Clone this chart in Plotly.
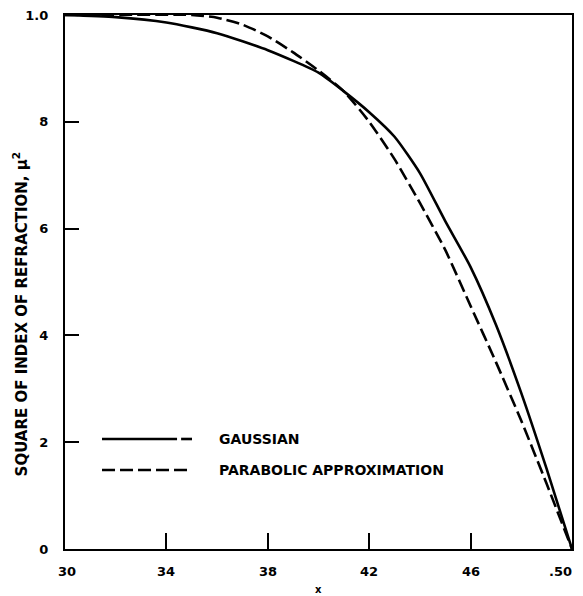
import plotly.graph_objects as go

# Values
gauss_x = [0.30, 0.32, 0.34, 0.36, 0.38, 0.40, 0.41, 0.42, 0.43, 0.44,
           0.45, 0.46, 0.47, 0.48, 0.49, 0.50]
gauss_y = [1.000, 0.996, 0.986, 0.966, 0.934, 0.892, 0.857, 0.818, 0.772, 0.704,
           0.614, 0.528, 0.420, 0.292, 0.150, 0.000]

parab_x = [0.30, 0.35, 0.36, 0.37, 0.38, 0.39, 0.40, 0.41, 0.42, 0.43,
           0.44, 0.45, 0.46, 0.47, 0.48, 0.49, 0.50]
parab_y = [1.000, 1.000, 0.995, 0.982, 0.960, 0.930, 0.896, 0.857, 0.800, 0.730,
           0.648, 0.560, 0.455, 0.350, 0.240, 0.122, 0.000]

x_ticks = [0.30, 0.34, 0.38, 0.42, 0.46, 0.50]
x_ticktext = ["30", "34", "38", "42", "46", ".50"]
y_ticks = [0.0, 0.2, 0.4, 0.6, 0.8, 1.0]
y_ticktext = ["0", "2", "4", "6", "8", "1.0"]

series_names = ["GAUSSIAN", "PARABOLIC APPROXIMATION"]

FONT = "DejaVu Sans"
# the page body has an 8px margin; shrink the figure so the plot lands where intended
PAGE_OFF = 8

fig = go.Figure()
fig.add_trace(go.Scatter(x=gauss_x, y=gauss_y, mode="lines", name=series_names[0],
                         line=dict(color="black", width=2.6, shape="spline", smoothing=0.6),
                         showlegend=False))
fig.add_trace(go.Scatter(x=parab_x, y=parab_y, mode="lines", name=series_names[1],
                         line=dict(color="black", width=2.6, dash="13px,5px",
                                   shape="spline", smoothing=0.6),
                         showlegend=False))

# x tick labels as text placed at the axis' own tick values
for i, (tv, tt) in enumerate(zip(x_ticks, x_ticktext)):
    last = i == len(x_ticks) - 1
    fig.add_annotation(xref="x", yref="paper", x=tv, y=0, yshift=-22,
                       text="<b>%s</b>" % tt, showarrow=False,
                       xanchor="right" if last else "center",
                       xshift=2 if last else (2 if i == 0 else 0),
                       yanchor="middle",
                       font=dict(family=FONT, size=13, color="black"))

# hand-drawn style legend (paper coords)
lx0, lx1 = 0.073, 0.2505
ly_g, ly_p = 0.206, 0.148
fig.add_shape(type="line", xref="paper", yref="paper", x0=lx0, x1=0.221, y0=ly_g, y1=ly_g,
              line=dict(color="black", width=2.6))
fig.add_shape(type="line", xref="paper", yref="paper", x0=0.229, x1=lx1, y0=ly_g, y1=ly_g,
              line=dict(color="black", width=2.6))
fig.add_shape(type="line", xref="paper", yref="paper", x0=lx0, x1=lx1, y0=ly_p, y1=ly_p,
              line=dict(color="black", width=2.6, dash="13px,5px"))
for name, yy in zip(series_names, [ly_g, ly_p]):
    fig.add_annotation(xref="paper", yref="paper", x=0.2998, y=yy, text="<b>%s</b>" % name,
                       showarrow=False, xanchor="left", yanchor="middle",
                       font=dict(family=FONT, size=14, color="black"))

# y-axis title
fig.add_annotation(xref="paper", yref="paper", x=-0.088, y=0.44,
                   text="<b>SQUARE OF INDEX OF REFRACTION, \u03bc<sup>2</sup></b>",
                   showarrow=False, textangle=-90, xanchor="center", yanchor="middle",
                   font=dict(family=FONT, size=15, color="black"))
# x-axis title
fig.add_annotation(xref="paper", yref="paper", x=0.5, y=-0.075, text="<b>x</b>",
                   showarrow=False, xanchor="center", yanchor="middle",
                   font=dict(family=FONT, size=10, color="black"))

fig.update_layout(
    width=583 - PAGE_OFF, height=596 - PAGE_OFF,
    margin=dict(l=65 - PAGE_OFF, r=11, t=15 - PAGE_OFF, b=47, autoexpand=False),
    paper_bgcolor="white", plot_bgcolor="white",
    font=dict(family=FONT, size=12, color="black"),
    xaxis=dict(range=[0.30, 0.50], tickvals=x_ticks, showticklabels=False,
               ticks="inside", ticklen=16, tickwidth=2, tickcolor="black",
               showline=True, linewidth=2.4, linecolor="black", mirror=True,
               showgrid=False, zeroline=False, automargin=False),
    yaxis=dict(range=[0.0, 1.0], tickvals=y_ticks, ticktext=["<b>%s</b>" % t for t in y_ticktext],
               ticks="inside", ticklen=14, tickwidth=1.5, tickcolor="black",
               showline=True, linewidth=2.4, linecolor="black", mirror=True,
               showgrid=False, zeroline=False, ticklabelstandoff=12, automargin=False,
               ticklabeloverflow="allow",
               tickfont=dict(family=FONT, size=13, color="black")),
)

fig.write_html("out.html")
